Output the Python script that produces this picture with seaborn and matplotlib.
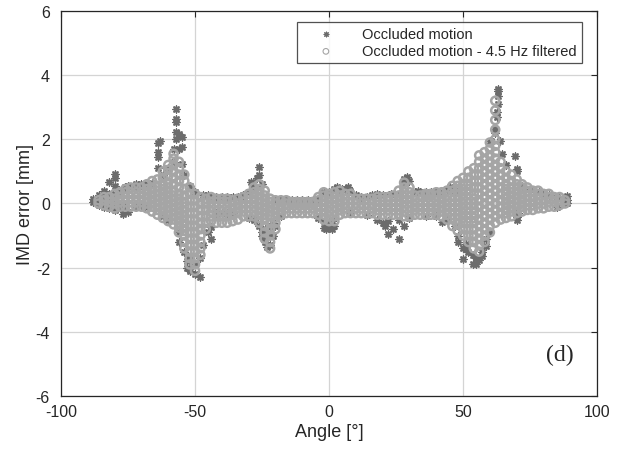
import matplotlib
matplotlib.use("Agg")
import matplotlib.pyplot as plt
import seaborn as sns
import pandas as pd

# Raw (occluded) motion: angle columns and the error values read at each
raw_angles = [-88, -86, -84, -82, -80, -78, -77, -76, -75, -72, -70, -68, -66, -64, -63,
              -62, -60, -58, -57, -56, -55, -54, -53, -52, -50, -48.3, -47, -45, -44,
              -42, -40, -38, -36, -34, -32, -30, -29, -28, -27, -26, -25, -24, -23,
              -22, -21, -20, -18, -16, -14, -12, -10, -8, -6, -4, -2, -1, 0, 1, 2, 3,
              4, 5, 6, 7, 8, 10, 12, 14, 16, 18, 20, 21, 22, 23, 24, 26, 28, 29, 30,
              32, 33, 34, 36, 38, 40, 42, 44, 45, 47, 48, 50, 51, 52, 53.6, 55, 56,
              57, 58.6, 60, 60.6, 61.8, 62.5, 63, 63.6, 64.4, 66, 69.2, 70, 70.4, 72,
              75, 78.5, 80, 82, 85, 88.6]
raw_errors = [[0.05, 0.15], [-0.05, 0.1, 0.25], [-0.1, 0.1, 0.3, 0.4],
              [-0.15, 0.05, 0.3, 0.67], [-0.2, 0.0, 0.3, 0.55, 0.8, 0.92],
              [-0.15, -0.05, 0.35], [-0.33], [-0.1, 0.5], [-0.25, 0.55],
              [-0.1, 0.5, 0.6], [-0.05, 0.57, 0.6], [-0.1, 0.6], [0.65],
              [1.1, 1.45, 1.6, 1.9], [1.95], [-0.4, 0.9], [-0.5, 1.1], [1.3, 1.7],
              [2.0, 2.23, 2.54, 2.63, 2.94], [-1.2, -0.9, 1.7, 2.17],
              [1.23, 1.76, 2.07], [-1.5, 0.9], [-1.8, -2.0], [-2.1, -1.7, 0.55],
              [-2.2, -1.9, 0.35], [-2.29, -1.7], [-1.3, 0.25], [-0.9, 0.25],
              [-1.1, -0.73, 0.2], [-0.3, 0.2], [-0.3, 0.2], [-0.3, 0.2], [-0.3, 0.2],
              [0.2], [0.25], [0.35, -0.45], [0.67], [-0.5, 0.5], [0.8],
              [1.13, 0.9, -0.7], [0.6, -0.9, -1.0], [-1.2, -1.0, -0.8],
              [-1.35, -0.95], [-1.3, -1.0, -0.7], [-1.0, -0.6], [-0.7, 0.15],
              [-0.4, 0.15], [0.15], [0.1], [0.1], [0.1], [0.1], [0.1],
              [0.15, -0.45], [0.35, -0.55, -0.75], [-0.8, -0.6], [-0.75, -0.6, 0.35],
              [-0.8, -0.55], [-0.7, 0.45], [0.5], [0.4], [0.45], [0.45], [0.5],
              [0.4, -0.3], [0.25], [0.2], [0.2, -0.35], [0.25], [0.3, -0.5],
              [0.25, -0.6], [-0.7], [-0.95, -0.55], [0.3], [-0.8], [-1.1, -0.5, 0.3],
              [-0.7, 0.65, 0.75], [0.82], [0.7, -0.45], [0.35], [0.4], [0.35],
              [0.35, -0.4], [0.35], [0.4, -0.4], [-0.58, 0.35], [0.45, -0.5], [0.5],
              [0.4, -0.7], [-1.0, -1.2], [-1.73, -1.4], [-1.42, -1.26], [-1.5],
              [-1.88, -1.6], [-1.88, -1.7], [-1.75], [-1.63, -1.5], [-1.32, -1.1],
              [-0.9, 1.95], [1.95], [2.32, 2.2], [2.85, 2.7], [3.57, 3.35, 3.1, 3.5],
              [1.95], [1.54], [1.2], [1.48], [1.07, 1.01, -0.23, -0.42, -0.5], [-0.3],
              [0.55], [0.45], [0.35], [0.3], [0.25], [0.2, -0.1], [0.23, 0.1, 0.0]]

# 4.5 Hz filtered motion
filt_angles = list(range(-86, 89, 2))
filt_errors = [
    [0.0, 0.1], [-0.05, 0.1, 0.2], [-0.1, 0.05, 0.2], [-0.15, 0.0, 0.15, 0.3],
    [-0.1, 0.05, 0.2, 0.35], [-0.1, 0.05, 0.2, 0.35, 0.45],
    [-0.1, 0.05, 0.2, 0.35, 0.5], [-0.1, 0.05, 0.2, 0.35, 0.5],
    [-0.1, 0.05, 0.2, 0.35, 0.5], [-0.15, 0.0, 0.15, 0.3, 0.45, 0.6],
    [-0.25, -0.1, 0.05, 0.2, 0.35, 0.5, 0.7],
    [-0.35, -0.2, -0.05, 0.1, 0.25, 0.4, 0.55, 0.75],
    [-0.45, -0.3, -0.15, 0.0, 0.15, 0.3, 0.45, 0.6, 0.8, 1.0],
    [-0.55, -0.4, -0.25, -0.1, 0.05, 0.2, 0.35, 0.5, 0.65, 0.85, 1.05, 1.2],
    [-0.65, -0.5, -0.35, -0.2, -0.05, 0.1, 0.25, 0.4, 0.6, 0.8, 1.0, 1.2, 1.4, 1.55],
    [-0.9, -0.75, -0.6, -0.45, -0.3, -0.15, 0.0, 0.15, 0.3, 0.5, 0.7, 0.9, 1.1, 1.3],
    [-1.4, -1.2, -1.0, -0.85, -0.7, -0.55, -0.4, -0.25, -0.1, 0.05, 0.25, 0.45, 0.7, 0.9],
    [-1.9, -1.7, -1.5, -1.3, -1.1, -0.9, -0.7, -0.5, -0.3, -0.1, 0.1, 0.3, 0.5],
    [-2.1, -1.9, -1.7, -1.5, -1.3, -1.1, -0.9, -0.7, -0.5, -0.3, -0.1, 0.1, 0.3],
    [-1.6, -1.4, -1.2, -1.0, -0.8, -0.6, -0.4, -0.2, 0.0, 0.2],
    [-0.8, -0.6, -0.4, -0.2, 0.0, 0.15], [-0.55, -0.4, -0.25, -0.1, 0.05, 0.2],
    [-0.6, -0.4, -0.25, -0.1, 0.05, 0.15], [-0.6, -0.4, -0.25, -0.1, 0.05, 0.15],
    [-0.6, -0.4, -0.25, -0.1, 0.05, 0.15], [-0.55, -0.35, -0.2, -0.05, 0.1],
    [-0.5, -0.3, -0.15, 0.0, 0.15], [-0.4, -0.25, -0.1, 0.05, 0.2],
    [-0.4, -0.25, -0.1, 0.05, 0.2, 0.3], [-0.4, -0.25, -0.1, 0.05, 0.2, 0.35, 0.5],
    [-0.6, -0.45, -0.3, -0.15, 0.0, 0.15, 0.3, 0.45, 0.6],
    [-1.1, -0.9, -0.7, -0.5, -0.35, -0.2, -0.05, 0.1, 0.25, 0.4],
    [-1.4, -1.2, -1.0, -0.8, -0.6, -0.4, -0.25, -0.1, 0.05, 0.15],
    [-0.8, -0.6, -0.45, -0.3, -0.15, 0.0, 0.1], [-0.35, -0.2, -0.05, 0.1],
    [-0.3, -0.15, 0.0, 0.1], [-0.3, -0.15, 0.0, 0.05], [-0.3, -0.15, 0.0, 0.05],
    [-0.3, -0.15, 0.0, 0.05], [-0.3, -0.15, 0.0, 0.05], [-0.3, -0.15, 0.0, 0.05],
    [-0.35, -0.2, -0.05, 0.1, 0.2], [-0.5, -0.35, -0.2, -0.05, 0.1, 0.25, 0.35],
    [-0.55, -0.4, -0.25, -0.1, 0.05, 0.2, 0.3], [-0.55, -0.4, -0.25, -0.1, 0.05, 0.2, 0.35],
    [-0.35, -0.2, -0.05, 0.1, 0.25, 0.4], [-0.3, -0.15, 0.0, 0.15, 0.3],
    [-0.3, -0.15, 0.0, 0.15, 0.3], [-0.3, -0.15, 0.0, 0.15], [-0.3, -0.15, 0.0, 0.15],
    [-0.3, -0.15, 0.0, 0.15], [-0.3, -0.15, 0.0, 0.15], [-0.35, -0.2, -0.05, 0.1, 0.2],
    [-0.35, -0.2, -0.05, 0.1, 0.2], [-0.35, -0.2, -0.05, 0.1, 0.2],
    [-0.35, -0.2, -0.05, 0.1, 0.25], [-0.35, -0.2, -0.05, 0.1, 0.25, 0.4],
    [-0.4, -0.25, -0.1, 0.05, 0.2, 0.35, 0.5, 0.65],
    [-0.4, -0.25, -0.1, 0.05, 0.2, 0.35, 0.5], [-0.35, -0.2, -0.05, 0.1, 0.25],
    [-0.35, -0.2, -0.05, 0.1, 0.25], [-0.35, -0.2, -0.05, 0.1, 0.25, 0.3],
    [-0.35, -0.2, -0.05, 0.1, 0.25, 0.3], [-0.35, -0.2, -0.05, 0.1, 0.25, 0.35],
    [-0.4, -0.25, -0.1, 0.05, 0.2, 0.35], [-0.5, -0.35, -0.2, -0.05, 0.1, 0.25, 0.4],
    [-0.7, -0.5, -0.35, -0.2, -0.05, 0.1, 0.25, 0.4, 0.55],
    [-0.85, -0.65, -0.5, -0.35, -0.2, -0.05, 0.1, 0.25, 0.4, 0.55, 0.7],
    [-1.0, -0.8, -0.6, -0.45, -0.3, -0.15, 0.0, 0.15, 0.3, 0.45, 0.6, 0.8],
    [-1.2, -1.0, -0.8, -0.6, -0.45, -0.3, -0.15, 0.0, 0.15, 0.3, 0.45, 0.6, 0.8, 1.0],
    [-1.4, -1.2, -1.0, -0.8, -0.6, -0.45, -0.3, -0.15, 0.0, 0.15, 0.3, 0.5, 0.7, 0.9, 1.1],
    [-1.5, -1.3, -1.1, -0.9, -0.7, -0.5, -0.3, -0.1, 0.1, 0.3, 0.5, 0.7, 0.9, 1.1, 1.3, 1.5],
    [-1.2, -1.0, -0.8, -0.6, -0.4, -0.2, 0.0, 0.2, 0.4, 0.6, 0.8, 1.0, 1.2, 1.4, 1.6],
    [-0.9, -0.7, -0.5, -0.3, -0.1, 0.1, 0.3, 0.5, 0.7, 0.9, 1.1, 1.3, 1.5, 1.7, 1.9],
    [-0.6, -0.4, -0.2, 0.0, 0.2, 0.4, 0.6, 0.8, 1.0, 1.2, 1.4, 1.6, 1.8, 2.0, 2.3, 2.6, 2.9, 3.2],
    [-0.5, -0.3, -0.1, 0.1, 0.3, 0.5, 0.7, 0.9, 1.1, 1.3],
    [-0.45, -0.3, -0.15, 0.0, 0.15, 0.3, 0.45, 0.6, 0.8, 1.0],
    [-0.4, -0.25, -0.1, 0.05, 0.2, 0.35, 0.5, 0.7, 0.9],
    [-0.3, -0.15, 0.0, 0.15, 0.3, 0.45, 0.6, 0.75],
    [-0.25, -0.1, 0.05, 0.2, 0.35, 0.5, 0.6], [-0.2, -0.05, 0.1, 0.25, 0.4, 0.5],
    [-0.2, -0.05, 0.1, 0.25, 0.4], [-0.15, 0.0, 0.15, 0.3, 0.4],
    [-0.15, 0.0, 0.15, 0.3], [-0.1, 0.05, 0.2, 0.3], [-0.1, 0.05, 0.2],
    [-0.05, 0.1, 0.2], [0.0, 0.1]]


def to_frame(angles, errors):
    rows = [(a, e) for a, errs in zip(angles, errors) for e in errs]
    return pd.DataFrame(rows, columns=["angle", "error"])


raw_df = to_frame(raw_angles, raw_errors)
filt_df = to_frame(filt_angles, filt_errors)

sns.set_style("white")
plt.rcParams["font.family"] = ["Liberation Sans", "DejaVu Sans"]
plt.rcParams["axes.unicode_minus"] = False

fig = plt.figure(figsize=(6.27, 4.56), dpi=100)
ax = fig.add_axes([0.0973, 0.1294, 0.855, 0.8443])

sns.scatterplot(data=raw_df, x="angle", y="error", ax=ax,
                marker=(8, 2, 0), s=24, color="#6c6c6c", linewidth=1.1,
                label="Occluded motion", zorder=3)
sns.scatterplot(data=filt_df, x="angle", y="error", ax=ax,
                marker="o", s=34, facecolor="none", edgecolor="#a5a5a5",
                linewidth=1.8, label="Occluded motion - 4.5 Hz filtered", zorder=4)

ax.set_xlim(-100, 100)
ax.set_ylim(-6, 6)
ax.set_xticks([-100, -50, 0, 50, 100])
ax.set_yticks([-6, -4, -2, 0, 2, 4, 6])
ax.grid(True, color="#d4d4d4", linewidth=0.9)
ax.set_axisbelow(True)
ax.tick_params(direction="in", length=4, width=0.8, top=True, right=True,
               labelsize=11.5, colors="#262626")
ax.tick_params(axis="x", pad=6)
ax.tick_params(axis="y", pad=8)
for sp in ax.spines.values():
    sp.set_color("#262626")
    sp.set_linewidth(0.9)

ax.set_xlabel("Angle [°]", fontsize=13, color="#262626", labelpad=3)
ax.set_ylabel("IMD error [mm]", fontsize=13, color="#262626", labelpad=1)

leg = ax.legend(loc="upper right", bbox_to_anchor=(0.972, 0.971), fontsize=10.5,
                frameon=True, fancybox=False, edgecolor="#262626",
                handlelength=3.2, handletextpad=0.9, borderpad=0.35,
                labelspacing=0.2, markerscale=0.7, borderaxespad=0)
leg.get_frame().set_linewidth(0.9)
for h in leg.legend_handles:
    h.set_linewidth(0.8)

ax.text(0.93, 0.107, "(d)", transform=ax.transAxes, ha="center", va="center",
        fontsize=17, family=["Liberation Serif", "DejaVu Serif"])

fig.savefig("out.png", dpi=100)
